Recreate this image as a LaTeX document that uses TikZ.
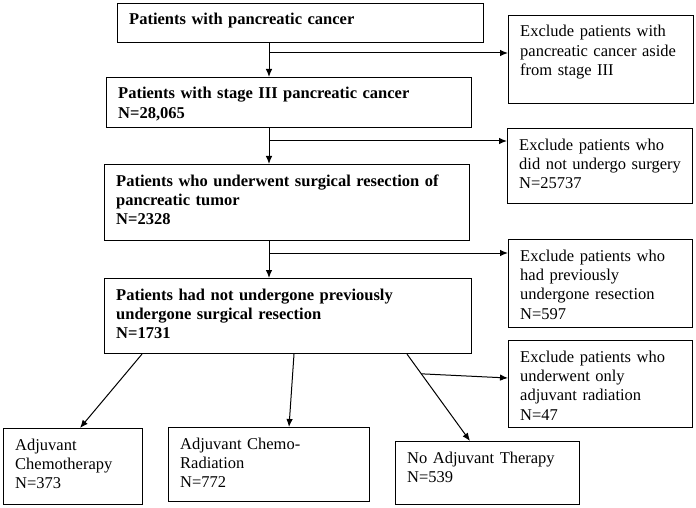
\documentclass[tikz,border=0pt]{standalone}
\usepackage{fontspec}
\setmainfont{Liberation Serif}
\usetikzlibrary{arrows.meta,calc}
\tikzset{
  boxst/.style={draw=black, line width=1.1pt, rectangle, inner sep=0pt, anchor=north west},
  txtst/.style={inner sep=0pt, text width=420pt, align=left, anchor=base west,
    font=\fontsize{16.5}{19.4}\selectfont},
  boldtxt/.style={txtst, font=\fontsize{16.5}{19.4}\selectfont\bfseries},
  arr/.style={line width=1pt, -{Latex[length=8pt,width=6.5pt]}},
  ln/.style={line width=1pt}
}
% #1 name, #2 x, #3 y, #4 w, #5 h, #6 text style, #7 text
\newcommand\mkbox[7]{%
  \node[boxst, minimum width=#4pt, minimum height=#5pt] (#1) at (#2,#3) {};
  \node[#6] (#1t) at ([xshift=12pt,yshift=-22pt]#1.north west) {#7};
}
\begin{document}
\begin{tikzpicture}[x=1pt,y=-1pt]
\useasboundingbox (0,0) rectangle (696,508);
% main column
\mkbox{b1}{117}{3}{366}{39}{boldtxt}{Patients with pancreatic cancer}
\mkbox{b2}{106}{77}{365}{50}{boldtxt}{Patients with stage III pancreatic cancer\\N=28,065}
\mkbox{b3}{104}{164}{365}{76}{boldtxt}{Patients who underwent surgical resection of\\pancreatic tumor\\N=2328}
\mkbox{b4}{104}{278}{367}{75}{boldtxt}{Patients had not undergone previously\\undergone surgical resection\\N=1731}
% exclusion column
\mkbox{e1}{508}{15}{185}{88}{txtst}{Exclude patients with\\pancreatic cancer aside\\from stage III}
\mkbox{e2}{507}{128}{185}{75}{txtst}{Exclude patients who\\did not undergo surgery\\N=25737}
\mkbox{e3}{508}{239}{184}{88}{txtst}{Exclude patients who\\had previously\\undergone resection\\N=597}
\mkbox{e4}{508}{340}{184}{87}{txtst}{Exclude patients who\\underwent only\\adjuvant radiation\\N=47}
% outcome boxes
\mkbox{c1}{3}{428}{139}{76}{txtst}{Adjuvant\\Chemotherapy\\N=373}
\mkbox{c2}{168}{427}{201}{74}{txtst}{Adjuvant Chemo-\\Radiation\\N=772}
\mkbox{c3}{395}{441}{184}{63}{txtst}{No Adjuvant Therapy\\N=539}
% junctions
\coordinate (j1) at (269,53);
\coordinate (j2) at (269,141);
\coordinate (j3) at (269,253);
\draw[arr] (b1.south -| j1) -- (b2.north -| j1);
\draw[arr] (j1) -- (e1.west |- j1);
\draw[arr] (b2.south -| j2) -- (b3.north -| j2);
\draw[arr] (j2) -- (e2.west |- j2);
\draw[arr] (b3.south -| j3) -- (b4.north -| j3);
\draw[arr] (j3) -- (e3.west |- j3);
% lower branches
\coordinate (d1s) at ($(b4.south west)+(38,0)$);
\coordinate (d1e) at ($(c1.north west)+(77,0)$);
\coordinate (d2s) at ($(b4.south west)+(190,0)$);
\coordinate (d2e) at ($(c2.north west)+(121,0)$);
\coordinate (d3s) at ($(b4.south west)+(303,0)$);
\coordinate (d3e) at ($(c3.north west)+(75,0)$);
\coordinate (d3m) at ($(d3s)!0.227!(d3e)$);
\coordinate (e4in) at ($(e4.north west)+(0,38)$);
\draw[arr] (d1s) -- (d1e);
\draw[arr] (d2s) -- (d2e);
\draw[arr] (d3s) -- (d3e);
\draw[arr] (d3m) -- (e4in);
\end{tikzpicture}
\end{document}
